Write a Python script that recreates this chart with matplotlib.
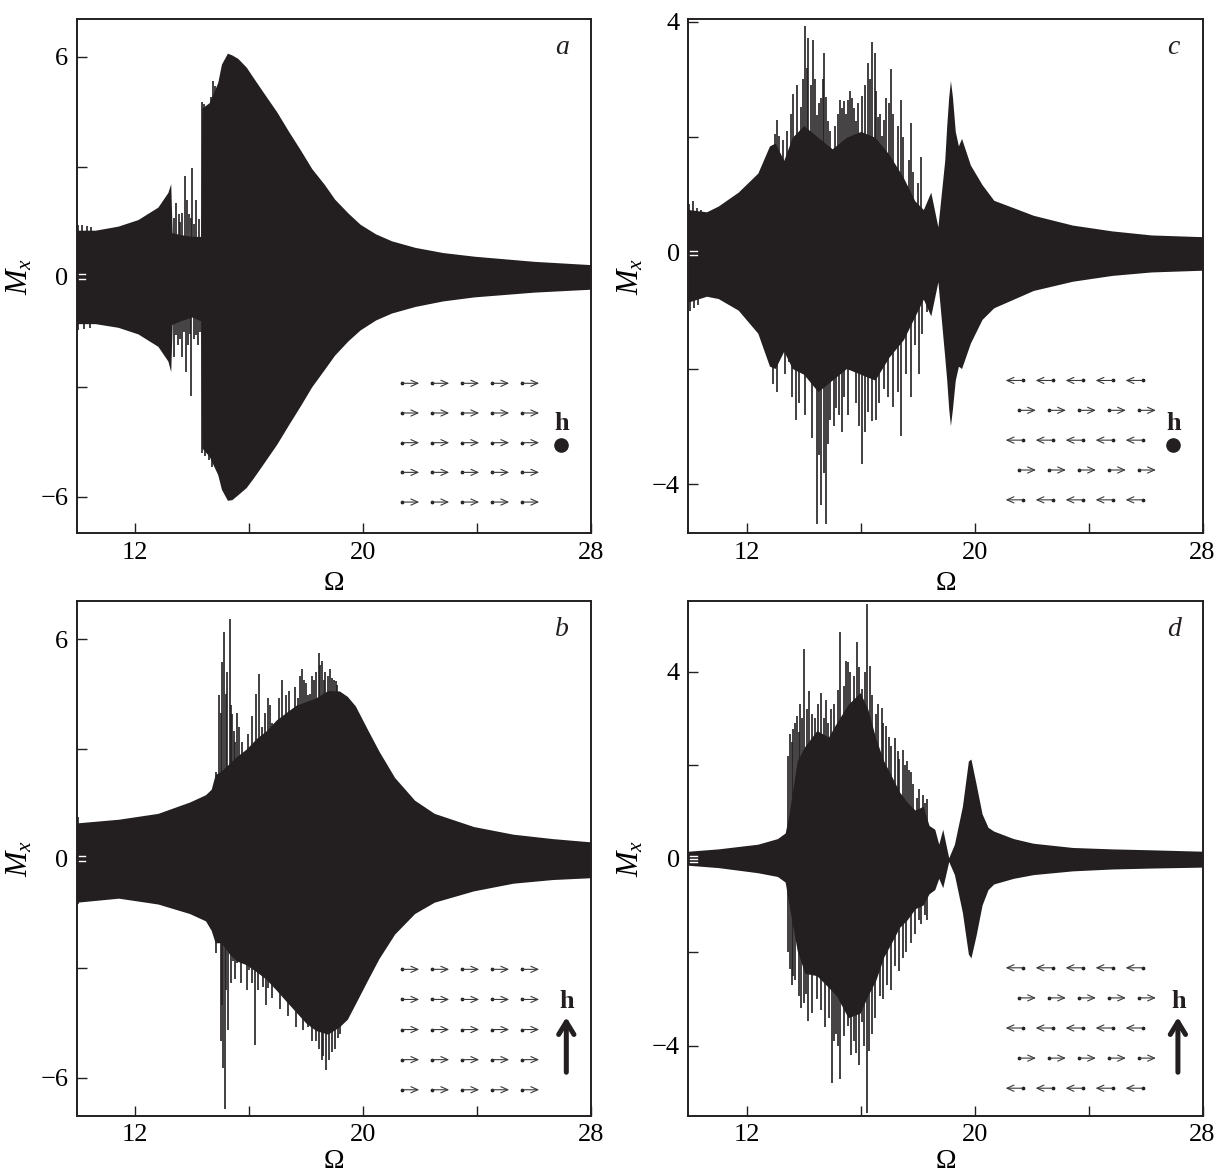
import numpy as np
import matplotlib.pyplot as plt
import matplotlib.transforms as mtransforms

plt.rcParams['font.family'] = ['Liberation Serif', 'DejaVu Serif']
plt.rcParams['mathtext.fontset'] = 'custom'
plt.rcParams['mathtext.rm'] = 'Liberation Serif'
plt.rcParams['mathtext.it'] = 'Liberation Serif:italic'
plt.rcParams['mathtext.bf'] = 'Liberation Serif:bold'

INK = '#231f20'

# ---- panel a : envelope of M_x(Omega) ----
om_a = [9.95, 10.6, 11.4, 12.1, 12.8, 13.15, 13.25, 13.3, 13.6, 14.0, 14.3, 14.34, 14.6, 14.9,
        15.03, 15.24, 15.4, 15.6, 15.9, 16.14, 16.5, 16.97, 17.4, 17.8, 18.2, 18.64, 19.0,
        19.47, 19.9, 20.44, 21.0, 21.83, 22.8, 23.9, 26.0, 28.0]
up_a = [1.27, 1.27, 1.38, 1.56, 1.9, 2.3, 2.54, 1.2, 1.15, 1.1, 1.1, 4.6, 4.75, 5.3,
        5.8, 6.1, 6.05, 5.96, 5.72, 5.44, 5.03, 4.5, 3.95, 3.46, 2.95, 2.52, 2.12,
        1.74, 1.43, 1.17, 0.98, 0.80, 0.66, 0.56, 0.42, 0.33]
lo_a = [-1.28, -1.28, -1.38, -1.56, -1.9, -2.3, -2.59, -1.3, -1.2, -1.1, -1.2, -4.67, -4.9, -5.4,
        -5.8, -6.1, -6.08, -5.95, -5.75, -5.5, -5.1, -4.57, -4.02, -3.52, -3.0, -2.53, -2.14,
        -1.75, -1.45, -1.18, -0.99, -0.81, -0.66, -0.55, -0.42, -0.34]
spk_up_x_a = [10.0, 10.15, 10.3, 10.45, 13.43, 13.53, 13.64, 13.74, 13.81, 13.89, 13.99, 14.15,
              14.24, 14.36, 14.5, 14.6, 14.74, 13.36, 13.58, 13.95, 14.05, 14.42, 14.68, 14.82]
spk_up_y_a = [1.42, 1.4, 1.38, 1.36, 2.0, 1.7, 1.74, 2.75, 2.1, 1.7, 2.97, 2.1,
              1.58, 4.77, 4.5, 4.62, 5.34, 1.6, 1.5, 1.6, 1.45, 4.7, 4.9, 5.2]
spk_lo_x_a = [10.0, 10.2, 10.4, 13.36, 13.5, 13.64, 13.78, 13.85, 13.97, 14.08, 14.2, 14.36,
              14.5, 14.7, 13.43, 13.58, 13.7, 13.92, 14.13, 14.27, 14.45, 14.6]
spk_lo_y_a = [-1.45, -1.42, -1.4, -2.2, -1.85, -2.2, -2.6, -1.85, -3.26, -1.7, -1.86, -4.8,
              -4.6, -5.2, -1.6, -1.7, -1.5, -1.55, -1.6, -1.5, -4.9, -5.0]

# ---- panel b ----
om_b = [9.96, 11.42, 12.8, 13.91, 14.47, 14.67, 14.81, 15.02, 15.3, 15.57, 15.9, 16.27, 16.6,
        16.96, 17.3, 17.65, 18.0, 18.34, 18.76, 19.17, 19.45, 19.73, 20.14, 20.56, 21.11,
        21.81, 22.5, 23.88, 25.27, 26.65, 28.0]
up_b = [0.98, 1.08, 1.24, 1.55, 1.75, 1.9, 2.3, 2.4, 2.6, 2.8, 3.0, 3.3, 3.5,
        3.8, 4.0, 4.2, 4.3, 4.4, 4.6, 4.59, 4.44, 4.18, 3.56, 2.94, 2.22,
        1.6, 1.24, 0.88, 0.67, 0.55, 0.46]
lo_b = [-1.19, -1.08, -1.24, -1.5, -1.7, -1.96, -2.3, -2.3, -2.6, -2.8, -2.9, -3.1, -3.3,
        -3.6, -3.9, -4.2, -4.5, -4.7, -4.8, -4.6, -4.39, -3.97, -3.35, -2.73, -2.06,
        -1.5, -1.19, -0.88, -0.67, -0.57, -0.52]
spk_up_x_b = [9.98, 14.85, 14.96, 15.06, 15.13, 15.23, 15.32, 15.41, 15.5, 15.57, 15.85, 16.34,
              16.47, 16.68, 16.82, 16.96, 17.17, 17.3, 17.51, 17.79, 17.93, 18.07, 18.2, 18.34,
              18.45, 18.62, 18.76, 18.9, 19.04,
              15.0, 15.18, 15.38, 15.46, 15.65, 15.75, 15.95, 16.1, 16.25, 16.55, 16.75, 17.05,
              17.4, 17.6, 17.72, 17.85, 18.0, 18.13, 18.27, 18.5, 18.55, 18.68, 18.83, 18.97, 19.1]
spk_up_y_b = [1.13, 2.37, 4.49, 5.37, 6.19, 5.1, 6.55, 3.97, 3.2, 4.0, 2.75, 5.06,
              3.6, 4.39, 3.7, 3.1, 4.9, 4.49, 3.97, 5.0, 4.9, 4.49, 5.0, 5.1,
              5.62, 4.9, 5.0, 4.95, 4.85,
              4.0, 4.5, 4.2, 3.5, 3.6, 3.2, 3.4, 3.9, 4.5, 4.0, 4.2, 4.4,
              4.6, 4.7, 4.4, 5.2, 4.8, 4.5, 4.9, 5.3, 5.4, 5.1, 5.2, 4.9, 4.75]
spk_lo_x_b = [9.98, 14.85, 15.02, 15.09, 15.16, 15.27, 15.43, 15.57, 15.85, 15.99, 16.2, 16.4,
              16.68, 16.96, 17.24, 17.51, 17.79, 18.07, 18.34, 18.55, 18.69, 18.9, 19.11, 19.31,
              15.05, 15.2, 15.35, 15.5, 15.7, 15.92, 16.1, 16.3, 16.5, 16.6, 16.8, 17.1,
              17.35, 17.65, 17.9, 18.2, 18.45, 18.6, 18.8, 19.0, 19.2]
spk_lo_y_b = [-1.25, -2.58, -5.0, -5.73, -6.86, -4.7, -2.8, -2.85, -2.2, -3.05, -5.1, -2.7,
              -3.55, -3.25, -2.8, -3.97, -4.18, -4.6, -5.0, -5.52, -5.78, -5.3, -4.9, -4.5,
              -4.0, -3.6, -3.4, -3.3, -3.4, -3.6, -3.4, -3.6, -3.5, -4.0, -3.8, -4.1,
              -4.3, -4.6, -4.7, -5.0, -5.2, -5.4, -5.5, -5.2, -4.8]

# ---- panel c ----
om_c = [9.95, 10.59, 11.0, 11.7, 12.39, 12.8, 13.0, 13.3, 13.6, 14.0, 14.5, 15.0, 15.5, 16.0,
        16.5, 17.0, 17.5, 17.9, 18.2, 18.46, 18.71, 18.95, 19.02, 19.09, 19.15, 19.22, 19.32,
        19.43, 19.54, 19.85, 20.26, 20.67, 22.06, 23.44, 24.82, 26.2, 28.0]
up_c = [0.75, 0.71, 0.81, 1.05, 1.38, 1.85, 1.9, 1.6, 2.0, 2.2, 2.0, 1.8, 2.0, 2.1,
        2.0, 1.7, 1.3, 0.9, 0.75, 1.05, 0.45, 1.6, 2.2, 2.7, 2.98, 2.7, 2.1,
        1.85, 1.98, 1.52, 1.18, 0.91, 0.65, 0.48, 0.38, 0.31, 0.28]
lo_c = [-0.85, -0.75, -0.79, -0.99, -1.39, -1.96, -2.0, -1.7, -2.0, -2.1, -2.4, -2.2, -2.0, -2.1,
        -2.2, -1.8, -1.5, -1.1, -0.8, -1.09, -0.5, -1.8, -2.2, -2.7, -2.99, -2.7, -2.2,
        -1.96, -2.0, -1.56, -1.15, -0.95, -0.65, -0.49, -0.39, -0.33, -0.3]
spk_up_x_c = [9.98, 10.1, 10.25, 10.4, 12.98, 13.15, 13.28, 13.49, 13.63, 13.91, 14.04, 14.15,
              14.32, 14.46, 14.6, 14.73, 14.87, 15.01, 15.29, 15.43, 15.56, 15.7, 15.84, 16.05,
              16.25, 16.39, 16.49, 16.6, 16.74, 16.88, 17.08, 17.22, 17.43, 17.64, 17.77, 17.91,
              18.12, 18.26,
              13.05, 13.4, 13.56, 13.78, 13.98, 14.1, 14.24, 14.4, 14.53, 14.66, 14.8, 14.94,
              15.1, 15.2, 15.36, 15.5, 15.63, 15.77, 15.92, 16.15, 16.32, 16.55, 16.67, 16.81,
              16.98, 17.15, 17.32, 17.5, 17.7, 17.85, 18.0]
spk_up_y_c = [0.85, 0.9, 0.78, 0.75, 2.05, 2.02, 1.95, 1.52, 2.75, 2.52, 3.92, 3.72,
              3.68, 2.38, 2.68, 3.45, 2.28, 1.52, 2.65, 2.62, 2.65, 2.68, 2.28, 2.72,
              3.28, 3.65, 3.45, 2.35, 2.02, 2.68, 3.18, 1.52, 2.65, 1.11, 2.25, 0.71,
              1.65, 0.58,
              2.3, 2.1, 2.4, 2.9, 3.0, 3.2, 2.9, 3.0, 2.6, 3.0, 2.7, 2.1,
              2.2, 2.4, 2.5, 2.4, 2.8, 2.5, 2.6, 2.9, 3.0, 2.8, 2.4, 2.3,
              2.6, 2.4, 2.2, 2.0, 1.6, 1.4, 1.2]
spk_lo_x_c = [10.0, 10.15, 10.3, 12.94, 13.22, 13.49, 13.73, 13.91, 14.18, 14.46, 14.62, 14.8,
              14.94, 15.15, 15.43, 15.7, 16.05, 16.25, 16.53, 16.81, 17.15, 17.43, 17.77, 18.05,
              18.33,
              13.05, 13.35, 13.6, 13.82, 14.05, 14.3, 14.54, 14.7, 14.87, 15.05, 15.25, 15.36,
              15.56, 15.85, 15.95, 16.15, 16.4, 16.65, 16.95, 17.3, 17.6, 17.9, 18.15]
spk_lo_y_c = [-1.0, -0.95, -0.9, -2.26, -1.69, -1.89, -2.89, -1.96, -1.82, -4.69, -4.36, -4.69,
              -2.89, -2.69, -2.49, -1.82, -3.66, -2.76, -2.89, -2.36, -2.66, -3.16, -2.49, -2.09,
              -1.02,
              -2.4, -2.1, -2.5, -2.6, -2.8, -3.2, -3.5, -3.8, -3.3, -3.0, -2.8, -3.1,
              -2.8, -2.6, -3.0, -3.1, -2.9, -2.6, -2.5, -2.4, -2.1, -1.6, -1.4]

# ---- panel d ----
om_d = [9.95, 11.0, 12.39, 13.08, 13.35, 13.49, 13.77, 14.04, 14.46, 14.87, 15.15, 15.56, 15.98,
        16.25, 16.53, 16.81, 17.08, 17.36, 17.64, 17.91, 18.19, 18.4, 18.6, 18.74, 18.88, 19.09,
        19.29, 19.57, 19.78, 19.87, 20.05, 20.26, 20.47, 20.67, 21.36, 22.06, 23.44, 24.82, 26.2, 28.0]
up_d = [0.16, 0.21, 0.31, 0.43, 0.55, 0.96, 2.09, 2.4, 2.74, 2.6, 2.9, 3.3, 3.55,
        3.2, 2.57, 2.09, 1.77, 1.43, 1.2, 1.04, 1.12, 0.71, 0.63, 0.31, 0.63, 0.02,
        0.31, 1.12, 2.09, 2.13, 1.6, 0.96, 0.67, 0.59, 0.43, 0.33, 0.24, 0.21, 0.19, 0.16]
lo_d = [-0.14, -0.19, -0.3, -0.38, -0.5, -1.0, -1.96, -2.45, -2.5, -2.75, -2.93, -3.4, -3.3,
        -2.93, -2.6, -2.1, -1.8, -1.47, -1.3, -1.07, -0.99, -0.75, -0.66, -0.42, -0.62, -0.06,
        -0.34, -1.15, -2.04, -2.12, -1.64, -0.99, -0.66, -0.54, -0.42, -0.34, -0.26, -0.22, -0.2, -0.18]
spk_up_x_d = [13.53, 13.63, 13.77, 13.88, 14.0, 14.18, 14.39, 14.6, 14.87, 15.08, 15.29, 15.49,
              15.63, 15.87, 16.05, 16.23, 16.32, 16.53, 16.74, 16.88, 17.08, 17.19, 17.36, 17.5,
              17.64, 17.77, 17.98, 18.19, 18.33,
              13.45, 13.58, 13.7, 13.83, 13.95, 14.1, 14.3, 14.5, 14.7, 14.8, 14.95, 15.2,
              15.4, 15.57, 15.75, 15.95, 16.15, 16.4, 16.6, 16.8, 17.0, 17.3, 17.55, 17.7,
              17.85, 18.05, 18.25]
spk_up_y_d = [2.66, 2.78, 3.06, 3.3, 4.48, 3.59, 3.0, 3.55, 2.9, 3.3, 4.84, 4.23,
              4.0, 4.64, 3.63, 5.45, 4.11, 3.1, 3.23, 2.83, 2.4, 2.57, 2.13, 2.33,
              2.09, 1.85, 1.3, 1.36, 1.28,
              2.2, 2.5, 2.9, 2.7, 3.0, 3.2, 3.1, 3.3, 3.0, 3.4, 3.2, 3.6,
              3.7, 4.2, 3.9, 4.1, 4.0, 3.5, 3.3, 2.9, 2.6, 2.3, 2.0, 1.9,
              1.6, 1.5, 1.2]
spk_lo_x_d = [13.53, 13.63, 13.84, 14.02, 14.14, 14.6, 15.01, 15.15, 15.29, 15.56, 15.84, 16.05,
              16.23, 16.39, 16.67, 16.94, 17.22, 17.5, 17.77, 18.05, 18.33,
              13.45, 13.58, 13.7, 13.92, 14.08, 14.3, 14.45, 14.75, 14.9, 15.08, 15.22, 15.42,
              15.65, 15.75, 15.95, 16.12, 16.3, 16.5, 16.8, 17.05, 17.35, 17.6, 17.9, 18.1, 18.25]
spk_lo_y_d = [-2.36, -2.5, -2.93, -3.09, -3.46, -3.24, -4.79, -3.75, -4.71, -3.58, -4.15, -3.5,
              -5.44, -3.75, -2.93, -2.7, -2.3, -2.13, -1.8, -1.3, -1.3,
              -2.0, -2.7, -2.6, -3.2, -2.9, -3.3, -3.0, -3.6, -3.4, -3.9, -4.0, -3.8,
              -4.2, -3.9, -4.4, -4.0, -4.1, -3.4, -3.0, -2.8, -2.4, -2.0, -1.6, -1.4, -1.2]

# spin directions of the inset rows (+1 right, -1 left)
spins_ferro = [1, 1, 1, 1, 1]
spins_anti = [-1, 1, -1, 1, -1]


fig = plt.figure(figsize=(12.18, 11.74), dpi=100)
W, H = 1218.0, 1174.0
aw, ah = 514.3 / W, 514.6 / H
ax_a = fig.add_axes([76.7 / W, 1 - 533.3 / H, aw, ah])
ax_c = fig.add_axes([688.3 / W, 1 - 533.3 / H, aw, ah])
ax_b = fig.add_axes([76.7 / W, 1 - 1116.0 / H, aw, ah])
ax_d = fig.add_axes([688.3 / W, 1 - 1116.0 / H, aw, ah])


def draw_spins(ax, spins, row0, step, field):
    col = '#3a3a3a'
    for j, s in enumerate(spins):
        y = row0 - j * step
        for i in range(5):
            if spins is spins_ferro:
                tail = 0.632 + i * 0.0583
                head = tail + 0.034
            elif s < 0:
                head = 0.617 + i * 0.0583
                tail = head + 0.033
            else:
                tail = 0.643 + i * 0.0583
                head = tail + 0.033
            ax.annotate('', xy=(head, y), xytext=(tail, y), xycoords='axes fraction',
                        arrowprops=dict(arrowstyle='->,head_length=0.5,head_width=0.22',
                                        lw=0.8, color=col, shrinkA=0, shrinkB=0))
            ax.plot(tail, y, 'o', ms=1.7, color=INK, transform=ax.transAxes, clip_on=False)
    if field == 'dot':
        ax.text(0.943, 0.214, 'h', transform=ax.transAxes, fontsize=19, fontweight='bold',
                ha='center', va='center', color=INK)
        ax.plot(0.942, 0.171, 'o', ms=9.5, color=INK, transform=ax.transAxes)
    else:
        ax.text(0.953, 0.222, 'h', transform=ax.transAxes, fontsize=19, fontweight='bold',
                ha='center', va='center', color=INK)
        ax.annotate('', xy=(0.952, 0.192), xytext=(0.952, 0.085), xycoords='axes fraction',
                    arrowprops=dict(arrowstyle='->,head_length=0.9,head_width=0.55',
                                    lw=3.6, color=INK, shrinkA=0, shrinkB=0))


def draw_panel(ax, om, up, lo, sux, suy, slx, sly, ylim, ymaj, letter, nbar, xlab_y):
    ax.fill_between(om, lo, up, color=INK, lw=0)
    ax.vlines(sux, 0, suy, color=INK, lw=1.2)
    ax.vlines(slx, sly, 0, color=INK, lw=1.2)
    ax.set_xlim(9.95, 28)
    ax.set_ylim(*ylim)
    ax.set_xticks([12, 16, 20, 24, 28])
    ax.set_xticklabels(['12', '', '20', '', '28'])
    ax.set_yticks([-ymaj, -ymaj / 2, 0, ymaj / 2, ymaj])
    ax.set_yticklabels(['\u2212%d' % ymaj, '', '0', '', '%d' % ymaj])
    ax.tick_params(direction='in', length=7.5, width=1.0, labelsize=19, pad=6, color=INK)
    for sp in ax.spines.values():
        sp.set_linewidth(1.4)
        sp.set_color(INK)
    ax.set_xlabel('\u03a9', fontsize=20)
    ax.xaxis.set_label_coords(0.5, xlab_y)
    ax.set_ylabel('$M_x$', fontsize=22)
    ax.yaxis.set_label_coords(-0.083, 0.5)
    ax.text(0.944, 0.945, letter, transform=ax.transAxes, fontsize=20, style='italic',
            ha='center', va='center', color=INK)
    # small white marks at zero on the left spine
    trans = mtransforms.blended_transform_factory(ax.transAxes, ax.transData)
    offs = [-2.3, 2.3] if nbar == 2 else [-3.2, 0, 3.2]
    for dy in offs:
        off = mtransforms.ScaledTranslation(0, dy / 100.0, fig.dpi_scale_trans)
        ax.plot([0.004, 0.017], [0, 0], transform=trans + off, color='white', lw=1.0)


draw_panel(ax_a, om_a, up_a, lo_a, spk_up_x_a, spk_up_y_a, spk_lo_x_a, spk_lo_y_a,
           (-7, 7.04), 6, 'a', 2, -0.074)
draw_panel(ax_b, om_b, up_b, lo_b, spk_up_x_b, spk_up_y_b, spk_lo_x_b, spk_lo_y_b,
           (-7.04, 7.04), 6, 'b', 2, -0.064)
draw_panel(ax_c, om_c, up_c, lo_c, spk_up_x_c, spk_up_y_c, spk_lo_x_c, spk_lo_y_c,
           (-4.85, 4.05), 4, 'c', 2, -0.074)
draw_panel(ax_d, om_d, up_d, lo_d, spk_up_x_d, spk_up_y_d, spk_lo_x_d, spk_lo_y_d,
           (-5.5, 5.5), 4, 'd', 3, -0.064)

draw_spins(ax_a, spins_ferro, 0.2915, 0.0577, 'dot')
draw_spins(ax_b, spins_ferro, 0.285, 0.0585, 'up')
draw_spins(ax_c, spins_anti, 0.297, 0.058, 'dot')
draw_spins(ax_d, spins_anti, 0.288, 0.0585, 'up')

fig.savefig('out.png', dpi=100, facecolor='white')
